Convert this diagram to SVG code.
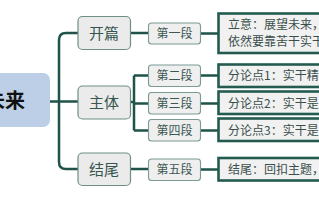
<svg xmlns="http://www.w3.org/2000/svg" width="319" height="200" viewBox="0 0 319 200">
<style>
text{font-family:"Noto Sans CJK SC","Noto Sans",sans-serif}
.conn{fill:none;stroke:#1f5349;stroke-width:2.5}
.main rect{fill:#ebebeb;stroke:#6d8f87;stroke-width:1.2}
.main text{font-size:15px;fill:#355650;text-anchor:middle}
.seg rect{fill:#efefef;stroke:#7a9a93;stroke-width:1.1}
.seg text{font-size:12px;fill:#3b5752;text-anchor:middle}
.note rect{fill:#f1f1f1;stroke:#245b50;stroke-width:2.6}
.note text{font-size:12px;fill:#3a4f4c}
</style>
<rect width="319" height="200" fill="#ffffff"/>
<g id="connectors">
<path class="conn" d="M50 101.5 H78"/>
<path class="conn" d="M78 33 H66 Q59 33 59 40 V162 Q59 169 66 169 H78"/>
<path class="conn" d="M131 33 H148 M201 33.5 H218"/>
<path class="conn" d="M131 102 H134 M134 75.5 V130.5 M134 75.5 H148 M134 103.5 H148 M134 130.5 H148"/>
<path class="conn" d="M201 75.5 H218 M201 103.5 H218 M201 130.5 H218"/>
<path class="conn" d="M131 169 H148 M201 169.5 H218"/>
</g>
<g id="root">
<rect x="-60" y="73" width="110" height="54" rx="7" fill="#bccfe6"/>
<text x="25" y="108" font-size="20" font-weight="bold" fill="#111" text-anchor="end">未来</text>
</g>
<g id="kaipian" class="main">
<rect x="78" y="16.5" width="52.5" height="33" rx="4.5"/>
<text x="104" y="38.5">开篇</text>
</g>
<g id="zhuti" class="main">
<rect x="78" y="86" width="52.5" height="33" rx="4.5"/>
<text x="104" y="108">主体</text>
</g>
<g id="jiewei" class="main">
<rect x="78" y="153" width="52.5" height="32.5" rx="4.5"/>
<text x="104" y="175">结尾</text>
</g>
<g id="seg1" class="seg">
<rect x="148.5" y="23" width="52" height="21" rx="3"/>
<text x="174.5" y="38">第一段</text>
</g>
<g id="seg2" class="seg">
<rect x="148.5" y="65" width="52" height="21.5" rx="3"/>
<text x="174.5" y="80">第二段</text>
</g>
<g id="seg3" class="seg">
<rect x="148.5" y="92.5" width="52" height="21.5" rx="3"/>
<text x="174.5" y="108">第三段</text>
</g>
<g id="seg4" class="seg">
<rect x="148.5" y="119.5" width="52" height="21.5" rx="3"/>
<text x="174.5" y="135">第四段</text>
</g>
<g id="seg5" class="seg">
<rect x="148.5" y="159" width="52" height="21.5" rx="3"/>
<text x="174.5" y="174">第五段</text>
</g>
<g id="note1" class="note">
<rect x="218.5" y="13.5" width="130" height="39.5"/>
<text x="228" y="29">立意：展望未来，</text>
<text x="228" y="46">依然要靠苦干实干</text>
</g>
<g id="note2" class="note">
<rect x="218.5" y="64.5" width="130" height="22.5"/>
<text x="228" y="80">分论点1：实干精神</text>
</g>
<g id="note3" class="note">
<rect x="218.5" y="91.5" width="130" height="22.5"/>
<text x="228" y="107.5">分论点2：实干是</text>
</g>
<g id="note4" class="note">
<rect x="218.5" y="118.5" width="130" height="22.5"/>
<text x="228" y="134.5">分论点3：实干是</text>
</g>
<g id="note5" class="note">
<rect x="218.5" y="158" width="130" height="22.5"/>
<text x="228" y="174">结尾：回扣主题，</text>
</g>
</svg>
